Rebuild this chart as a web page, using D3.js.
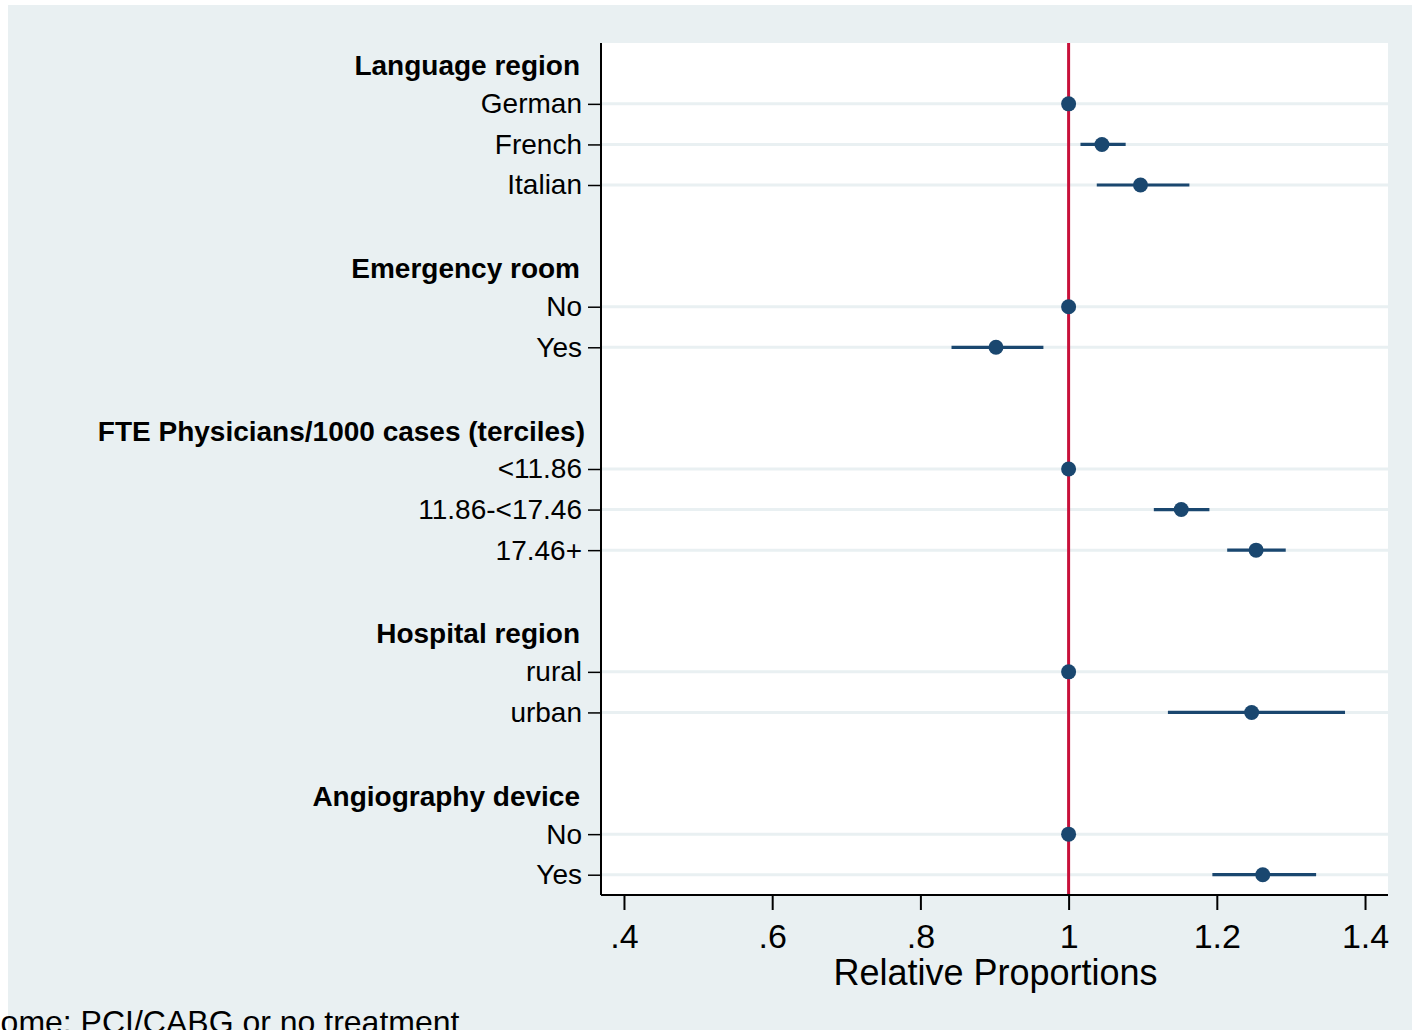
<!DOCTYPE html>
<html>
<head>
<meta charset="utf-8">
<script src="https://cdn.jsdelivr.net/npm/d3@7"></script>
<style>
  html, body { margin: 0; padding: 0; background: #ffffff; overflow: hidden; }
  svg { display: block; font-family: "Liberation Sans", Arial, Helvetica, sans-serif; }
</style>
</head>
<body>
<svg id="chart" width="1412" height="1030"></svg>
<script>
// Row labels, top to bottom. Group headings are bold rows without a mark.
const rowLabels = [
  "Language region", "German", "French", "Italian", "",
  "Emergency room", "No", "Yes", "",
  "FTE Physicians/1000 cases (terciles)", "<11.86", "11.86-<17.46", "17.46+", "",
  "Hospital region", "rural", "urban", "",
  "Angiography device", "No", "Yes"
];
const headingRows = [0, 5, 9, 14, 18];

// Estimates (relative proportions) and 95% confidence limits, one per item row.
const itemRows  = [1, 2, 3, 6, 7, 10, 11, 12, 15, 16, 19, 20];
const estimates = [1.000, 1.045, 1.097, 1.000, 0.902, 1.000, 1.152, 1.253, 1.000, 1.247, 1.000, 1.262];
const lowerCI   = [null, 1.016, 1.038, null, 0.842, null, 1.115, 1.214, null, 1.134, null, 1.194];
const upperCI   = [null, 1.077, 1.163, null, 0.966, null, 1.190, 1.293, null, 1.373, null, 1.334];

const xTickValues = [0.4, 0.6, 0.8, 1.0, 1.2, 1.4];
const xTickLabels = [".4", ".6", ".8", "1", "1.2", "1.4"];
const referenceValue = 1;
const xAxisTitle = "Relative Proportions";
const noteText = "Outcome: PCI/CABG or no treatment";

const svg = d3.select("#chart");
const W = 1412, H = 1030;
const plot = { left: 601, right: 1388, top: 43, bottom: 895 };

const colors = {
  outer: "#e9f0f2",
  grid: "#e9f0f2",
  marker: "#1a476f",
  ref: "#c8103a",
  axis: "#000000"
};

// outer region
svg.append("rect").attr("x", 8).attr("y", 5).attr("width", W - 8).attr("height", H - 5)
  .attr("fill", colors.outer);

// plot area
svg.append("rect").attr("x", plot.left).attr("y", plot.top)
  .attr("width", plot.right - plot.left).attr("height", plot.bottom - plot.top)
  .attr("fill", "#ffffff");

const x = d3.scaleLinear().domain([0.369, 1.431]).range([plot.left, plot.right]);
const y = d3.scalePoint().domain(d3.range(rowLabels.length))
  .range([plot.top, plot.bottom]).padding(0.5);

// horizontal grid lines at item rows
svg.append("g").selectAll("line").data(itemRows).join("line")
  .attr("x1", plot.left).attr("x2", plot.right)
  .attr("y1", d => y(d)).attr("y2", d => y(d))
  .attr("stroke", colors.grid).attr("stroke-width", 3);

// reference line
svg.append("line")
  .attr("x1", x(referenceValue)).attr("x2", x(referenceValue))
  .attr("y1", plot.top).attr("y2", plot.bottom)
  .attr("stroke", colors.ref).attr("stroke-width", 3);

// confidence intervals
const ciData = itemRows.map((r, i) => ({ r, lo: lowerCI[i], hi: upperCI[i] }))
  .filter(d => d.lo !== null);
svg.append("g").selectAll("line").data(ciData).join("line")
  .attr("x1", d => x(d.lo)).attr("x2", d => x(d.hi))
  .attr("y1", d => y(d.r)).attr("y2", d => y(d.r))
  .attr("stroke", colors.marker).attr("stroke-width", 3.2);

// point estimates
svg.append("g").selectAll("circle").data(itemRows.map((r, i) => ({ r, v: estimates[i] })))
  .join("circle")
  .attr("cx", d => x(d.v)).attr("cy", d => y(d.r)).attr("r", 7.5)
  .attr("fill", colors.marker);

// x axis
const xAxis = d3.axisBottom(x).tickValues(xTickValues)
  .tickFormat((d, i) => xTickLabels[i]).tickSize(15).tickPadding(14);
const gx = svg.append("g").attr("transform", `translate(0,${plot.bottom})`).call(xAxis);
gx.select(".domain").attr("d", `M${plot.left},0H${plot.right}`).attr("stroke-width", 2);
gx.selectAll(".tick line").attr("stroke-width", 2);
gx.selectAll(".tick text").attr("font-size", 34).attr("fill", "#000")
  .attr("font-family", "Liberation Sans, Arial, sans-serif");

// y axis (item ticks only; headings are text without a tick)
const yAxis = d3.axisLeft(y).tickValues(itemRows)
  .tickFormat(d => rowLabels[d]).tickSize(13).tickPadding(6);
const gy = svg.append("g").attr("transform", `translate(${plot.left},0)`).call(yAxis);
gy.select(".domain").attr("d", `M0,${plot.top}V${plot.bottom}`).attr("stroke-width", 2);
gy.selectAll(".tick line").attr("stroke-width", 1.5);
gy.selectAll(".tick text").attr("font-size", 28).attr("fill", "#000")
  .attr("font-family", "Liberation Sans, Arial, sans-serif");

// group headings
svg.append("g").selectAll("text").data(headingRows).join("text")
  .attr("x", d => d === 9 ? 585 : 580)
  .attr("y", d => y(d) + 2)
  .attr("dy", "0.36em")
  .attr("text-anchor", "end")
  .attr("font-size", 28).attr("font-weight", "bold")
  .text(d => rowLabels[d]);

// axis title
svg.append("text")
  .attr("x", (x(0.4) + x(1.4)) / 2 + 1).attr("y", 985)
  .attr("text-anchor", "middle").attr("font-size", 36)
  .text(xAxisTitle);

// note
svg.append("text")
  .attr("x", -67).attr("y", 1033)
  .attr("font-size", 32)
  .text(noteText);
</script>
</body>
</html>
